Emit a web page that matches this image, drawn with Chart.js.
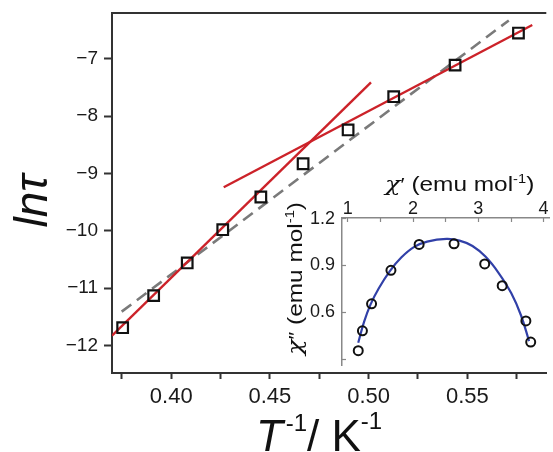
<!DOCTYPE html>
<html>
<head>
<meta charset="utf-8">
<script src="https://cdn.jsdelivr.net/npm/chart.js@4.4.1/dist/chart.umd.min.js"></script>
<style>
  html, body { margin: 0; padding: 0; background: #fff; overflow: hidden; }
  #wrap { position: relative; width: 553px; height: 452px; overflow: hidden; }
  #mainChart { position: absolute; left: 0; top: 0; }
  #insetChart { position: absolute; left: 270px; top: 150px; }
</style>
</head>
<body>
<div id="wrap">
  <canvas id="mainChart" width="556" height="452"></canvas>
  <canvas id="insetChart" width="286" height="222"></canvas>
</div>
<script>
// main panel: ln(tau) against 1/T
const invT = [0.3754, 0.3911, 0.4081, 0.4261, 0.4454, 0.4668, 0.4896, 0.5127, 0.5438, 0.5759];
const lnTau = [-11.69, -11.13, -10.56, -9.98, -9.41, -8.83, -8.24, -7.66, -7.11, -6.55];

// fitted straight lines (end points)
const fitLowX = [0.370, 0.5012];
const fitLowY = [-11.83, -7.41];
const fitHighX = [0.4266, 0.5829];
const fitHighY = [-9.24, -6.41];
const fitAllX = [0.3749, 0.5710];
const fitAllY = [-11.41, -6.33];

const xTicksMain = [0.375, 0.40, 0.425, 0.45, 0.475, 0.50, 0.525, 0.55, 0.575];
const yTicksMain = [-12, -11, -10, -9, -8, -7];

// inset: chi'' against chi'
const chi1 = [1.159, 1.223, 1.363, 1.660, 2.092, 2.627, 3.097, 3.365, 3.728, 3.802];
const chi2 = [0.355, 0.482, 0.655, 0.869, 1.035, 1.039, 0.910, 0.771, 0.545, 0.410];
const curveX = [1.159, 1.248, 1.348, 1.472, 1.646, 1.818, 2.017, 2.215, 2.513, 2.711, 2.910, 3.108, 3.306, 3.505, 3.654, 3.777];
const curveY = [0.406, 0.539, 0.651, 0.753, 0.866, 0.951, 1.019, 1.053, 1.070, 1.059, 1.025, 0.957, 0.855, 0.722, 0.580, 0.416];

const xTicksInset = [1, 1.5, 2, 2.5, 3, 3.5, 4];
const yTicksInset = [0.3, 0.45, 0.6, 0.75, 0.9, 1.05, 1.2];

const FONT = '"Liberation Sans", Arial, sans-serif';
const SERIF = '"DejaVu Serif", "Liberation Serif", serif';

function pts(xs, ys) {
    return xs.map((x, i) => ({ x: x, y: ys[i] }));
}

// draws a run of text pieces (used for superscripts)
function drawParts(ctx, parts) {
    let x = 0;
    parts.forEach(p => {
        ctx.font = p.font;
        ctx.fillText(p.t, x, p.dy || 0);
        x += ctx.measureText(p.t).width;
    });
}

const mainDecor = {
    id: 'mainDecor',
    afterDraw(chart) {
        const ctx = chart.ctx;
        const a = chart.chartArea;
        ctx.save();
        // top frame line
        ctx.strokeStyle = '#333';
        ctx.lineWidth = 2;
        ctx.beginPath();
        ctx.moveTo(a.left - 1, a.top);
        ctx.lineTo(a.right, a.top);
        ctx.stroke();

        ctx.fillStyle = '#111';
        ctx.textBaseline = 'alphabetic';
        // x title
        ctx.save();
        ctx.translate(256, 451);
        drawParts(ctx, [
            { t: 'T', font: 'italic 44px ' + FONT },
            { t: ' ', font: '10px ' + FONT },
            { t: '-1', font: '24px ' + FONT, dy: -20 },
            { t: '/ ', font: '44px ' + FONT },
            { t: 'K', font: '44px ' + FONT },
            { t: '-1', font: '24px ' + FONT, dy: -22 }
        ]);
        ctx.restore();

        // y title
        ctx.save();
        ctx.translate(47, 201);
        ctx.rotate(-Math.PI / 2);
        ctx.textAlign = 'center';
        ctx.font = 'italic 46px ' + FONT;
        ctx.fillText('ln\u03C4', 0, 0);
        ctx.restore();
        ctx.restore();
    }
};

const insetDecor = {
    id: 'insetDecor',
    beforeDraw(chart) {
        const ctx = chart.ctx;
        const a = chart.chartArea;
        ctx.save();
        ctx.fillStyle = '#fff';
        ctx.fillRect(a.left, a.top, a.right - a.left, a.bottom - a.top);
        ctx.restore();
    },
    afterDraw(chart) {
        const ctx = chart.ctx;
        const parts = (pr) => [
            { t: '\u03C7', font: 'italic 21px ' + SERIF },
            { t: pr, font: '18px ' + FONT },
            { t: ' (emu mol', font: '20px ' + FONT },
            { t: '-1', font: '12px ' + FONT, dy: -8 },
            { t: ')', font: '20px ' + FONT }
        ];
        ctx.save();
        ctx.fillStyle = '#111';
        ctx.textBaseline = 'alphabetic';
        ctx.save();
        ctx.translate(115, 41);
        ctx.scale(1.22, 1);
        drawParts(ctx, parts('\u2032'));
        ctx.restore();

        ctx.save();
        ctx.translate(32, 205);
        ctx.rotate(-Math.PI / 2);
        ctx.scale(1.22, 1);
        drawParts(ctx, parts('\u2033'));
        ctx.restore();
        ctx.restore();
    }
};

new Chart(document.getElementById('mainChart'), {
    type: 'scatter',
    data: {
        datasets: [
            {
                data: pts(invT, lnTau),
                pointStyle: 'rect',
                pointRadius: 7.5,
                borderColor: '#111',
                borderWidth: 2.2,
                backgroundColor: 'rgba(0,0,0,0)'
            },
            {
                data: pts(fitLowX, fitLowY),
                showLine: true,
                pointRadius: 0,
                borderColor: '#cc2229',
                borderWidth: 2.4
            },
            {
                data: pts(fitHighX, fitHighY),
                showLine: true,
                pointRadius: 0,
                borderColor: '#cc2229',
                borderWidth: 2.4
            },
            {
                data: pts(fitAllX, fitAllY),
                showLine: true,
                pointRadius: 0,
                borderColor: '#7a7a7a',
                borderWidth: 2.6,
                borderDash: [12, 7]
            }
        ]
    },
    options: {
        responsive: false,
        animation: false,
        layout: { padding: { top: 13, left: 0, right: 0, bottom: 0 } },
        plugins: {
            legend: { display: false },
            tooltip: { enabled: false }
        },
        scales: {
            x: {
                type: 'linear',
                min: 0.37,
                max: 0.59,
                afterBuildTicks: s => { s.ticks = xTicksMain.map(v => ({ value: v })); },
                afterFit: s => { s.height = 79; s.paddingLeft = 0; s.paddingRight = 0; },
                border: { color: '#333', width: 2 },
                grid: { drawOnChartArea: false, tickLength: 6, tickWidth: 2, tickColor: '#333' },
                ticks: {
                    padding: 5,
                    color: '#1a1a1a',
                    maxRotation: 0,
                    autoSkip: false,
                    font: { family: FONT, size: 22 },
                    callback: v => Math.abs(v * 20 - Math.round(v * 20)) < 1e-6 ? v.toFixed(2) : ''
                }
            },
            y: {
                type: 'linear',
                min: -12.48,
                max: -6.2,
                afterBuildTicks: s => { s.ticks = yTicksMain.map(v => ({ value: v })); },
                afterFit: s => { s.width = 112; s.paddingTop = 0; s.paddingBottom = 0; },
                border: { color: '#333', width: 2 },
                grid: { drawOnChartArea: false, tickLength: 8, tickWidth: 2, tickColor: '#333' },
                ticks: {
                    padding: 6,
                    color: '#1a1a1a',
                    font: { family: FONT, size: 19 },
                    callback: v => '\u2212' + Math.abs(v)
                }
            }
        }
    },
    plugins: [mainDecor]
});

new Chart(document.getElementById('insetChart'), {
    type: 'scatter',
    data: {
        datasets: [
            {
                data: pts(chi1, chi2),
                pointStyle: 'circle',
                pointRadius: 4.5,
                borderColor: '#111',
                borderWidth: 2,
                backgroundColor: 'rgba(0,0,0,0)'
            },
            {
                data: pts(curveX, curveY),
                showLine: true,
                pointRadius: 0,
                borderColor: '#3140a8',
                borderWidth: 2.2,
                tension: 0.4
            }
        ]
    },
    options: {
        responsive: false,
        animation: false,
        layout: { padding: 0 },
        plugins: {
            legend: { display: false },
            tooltip: { enabled: false }
        },
        scales: {
            x: {
                type: 'linear',
                position: 'top',
                min: 0.91,
                max: 4.09,
                afterBuildTicks: s => { s.ticks = xTicksInset.map(v => ({ value: v })); },
                afterFit: s => { s.height = 68; s.paddingLeft = 0; s.paddingRight = 0; },
                border: { color: '#888', width: 1.5 },
                grid: { drawOnChartArea: false, tickLength: -4, tickWidth: 1.2, tickColor: '#888' },
                ticks: {
                    padding: 2,
                    color: '#1a1a1a',
                    maxRotation: 0,
                    autoSkip: false,
                    font: { family: FONT, size: 18 },
                    callback: v => Number.isInteger(v) ? String(v) : ''
                }
            },
            y: {
                type: 'linear',
                min: 0.26,
                max: 1.204,
                afterBuildTicks: s => { s.ticks = yTicksInset.map(v => ({ value: v })); },
                afterFit: s => { s.width = 72; s.paddingTop = 0; s.paddingBottom = 0; },
                border: { color: '#888', width: 1.5 },
                grid: { drawOnChartArea: false, tickLength: -4, tickWidth: 1.2, tickColor: '#888' },
                ticks: {
                    padding: 11,
                    color: '#1a1a1a',
                    font: { family: FONT, size: 18 },
                    callback: v => (v > 0.5 && Math.abs(v / 0.3 - Math.round(v / 0.3)) < 1e-6) ? v.toFixed(1) : ''
                }
            }
        }
    },
    plugins: [insetDecor]
});
</script>
</body>
</html>
